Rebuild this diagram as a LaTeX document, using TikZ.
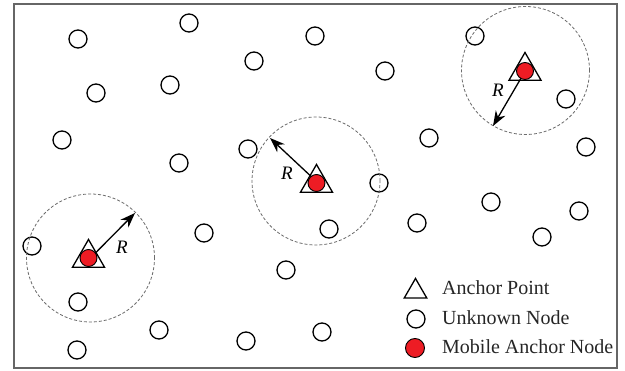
\documentclass[tikz,border=0pt]{standalone}
\usepackage{fontspec}
\setmainfont{Liberation Serif}
\usetikzlibrary{arrows.meta,shapes.geometric}
\definecolor{mobred}{RGB}{237,28,36}
\tikzset{
  unknown/.style={circle,draw=black,line width=1.3pt,fill=white,minimum size=18pt,inner sep=0pt},
  mobile/.style={circle,draw=black,line width=0.9pt,fill=mobred,minimum size=17pt,inner sep=0pt},
  anchortri/.style={regular polygon,regular polygon sides=3,draw=black,line width=1.3pt,minimum size=37pt,inner sep=0pt},
  legtri/.style={regular polygon,regular polygon sides=3,draw=black,line width=1.3pt,minimum size=26pt,inner sep=0pt},
  rangecirc/.style={circle,draw=gray!85!black,line width=0.8pt,dash pattern=on 3pt off 2pt,minimum size=128pt,inner sep=0pt},
  radarrow/.style={-{Stealth[length=15pt,width=11pt]},line width=1.3pt,black},
  rlabel/.style={font=\fontsize{19}{22}\selectfont\itshape,inner sep=0pt},
  legtext/.style={anchor=base west,font=\fontsize{20}{24}\selectfont,inner sep=0pt,text=black!85}
}
\begin{document}
\begin{tikzpicture}[x=1pt,y=-1pt]
\useasboundingbox (0,0) rectangle (625,371);
\fill[white] (0,0) rectangle (625,371);
\draw[gray!80!black,line width=1.6pt] (14,4) rectangle (617,368);

% unknown nodes
\foreach \px/\py [count=\i] in {
  78/39,189/23,315/36,254/61,170/85,96/93,385/71,62/140,179/163,248/149,
  429/138,475/36,566/99,586/147,379/183,417/223,491/202,579/211,542/237,
  329/229,204/233,32/246,286/270,78/302,159/330,246/341,322/332,77/350}
  \node[unknown] (u\i) at (\px,\py) {};

% communication ranges of the mobile anchor
\node[rangecirc] (c1) at (90.5,258) {};
\node[rangecirc] (c2) at (316,181) {};
\node[rangecirc] (c3) at (525.5,70.5) {};

% radius arrows to the range boundary
\coordinate (e1) at (135,213);
\coordinate (e2) at (270,138);
\coordinate (e3) at (493,126);
\draw[radarrow] (c1.center) -- (e1);
\draw[radarrow] (c2.center) -- (e2);
\draw[radarrow] (c3.center) -- (e3);
\node[rlabel] (r1) at (122,247) {R};
\node[rlabel] (r2) at (287,173) {R};
\node[rlabel] (r3) at (498,90) {R};

% anchor points with the mobile anchor on top
\node[anchortri] (a1) at (88.5,258) {};
\node[anchortri] (a2) at (316.5,183) {};
\node[anchortri] (a3) at (525,71) {};
\node[mobile] (m1) at (88.5,258) {};
\node[mobile] (m2) at (316.5,183) {};
\node[mobile] (m3) at (525,71) {};

% legend
\node[legtri] (lt) at (415.5,291.5) {};
\node[unknown] (lc) at (416,319) {};
\node[mobile,minimum size=19pt] (lm) at (415,348) {};
\node[legtext] (l1) at (442,295) {Anchor Point};
\node[legtext] (l2) at (442,325) {Unknown Node};
\node[legtext] (l3) at (442,354) {Mobile Anchor Node};
\end{tikzpicture}
\end{document}
